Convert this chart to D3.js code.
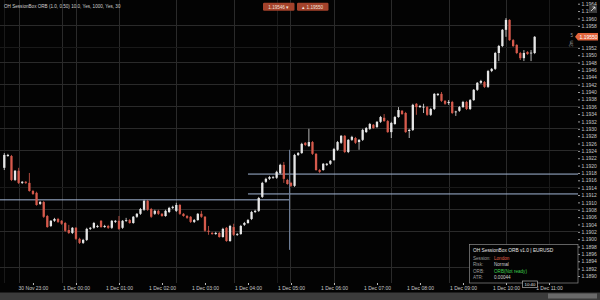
<!DOCTYPE html>
<html>
<head lang="en">
<meta charset="UTF-8">
<title>EURUSD M5</title>
<script src="https://cdn.jsdelivr.net/npm/d3@7"></script>
<style>
body { margin: 0; background: #000; }
text { font-family: "Liberation Sans", Arial, sans-serif; }
</style>
</head>
<body>
<div id="vis"></div>
<script>

// EURUSD M5, one candle every 5 minutes from 30 Nov 22:20
var firstBar = new Date(2020, 10, 30, 22, 20);

var open = [1.19194,1.19226,1.19226,1.19161,1.19186,1.19153,1.19156,1.19153,1.19131,1.19126,
  1.19096,1.19101,1.19063,1.19036,1.19050,1.19055,1.19050,1.19044,1.19025,1.19017,
  1.19031,1.19001,1.18990,1.18998,1.19028,1.19031,1.19033,1.19050,1.19033,1.19036,
  1.19031,1.19047,1.19050,1.19031,1.19052,1.19052,1.19044,1.19061,1.19069,1.19080,
  1.19104,1.19082,1.19069,1.19077,1.19069,1.19063,1.19074,1.19085,1.19077,1.19093,
  1.19069,1.19063,1.19061,1.19047,1.19052,1.19069,1.19061,1.19023,1.19017,1.19014,
  1.19017,1.19006,1.19031,1.18995,1.19033,1.19012,1.19014,1.19039,1.19044,1.19055,
  1.19074,1.19077,1.19115,1.19156,1.19164,1.19167,1.19167,1.19180,1.19202,1.19161,
  1.19153,1.19145,1.19229,1.19234,1.19262,1.19253,1.19264,1.19232,1.19188,1.19188,
  1.19202,1.19205,1.19215,1.19243,1.19262,1.19281,1.19237,1.19270,1.19275,1.19264,
  1.19270,1.19291,1.19300,1.19311,1.19305,1.19319,1.19330,1.19321,1.19291,1.19313,
  1.19332,1.19349,1.19343,1.19294,1.19297,1.19368,1.19359,1.19359,1.19359,1.19338,
  1.19354,1.19392,1.19395,1.19376,1.19370,1.19373,1.19346,1.19349,1.19359,1.19373,
  1.19354,1.19378,1.19406,1.19425,1.19427,1.19414,1.19457,1.19463,1.19506,1.19525,
  1.19569,1.19596,1.19541,1.19528,1.19506,1.19492,1.19509,1.19506,1.19506];

var high = [1.19234,1.19232,1.19229,1.19188,1.19194,1.19158,1.19158,1.19180,1.19134,1.19129,
  1.19104,1.19104,1.19066,1.19052,1.19058,1.19058,1.19052,1.19047,1.19039,1.19033,
  1.19033,1.19004,1.19001,1.19031,1.19033,1.19047,1.19039,1.19052,1.19039,1.19039,
  1.19052,1.19052,1.19063,1.19052,1.19058,1.19055,1.19063,1.19071,1.19085,1.19107,
  1.19107,1.19085,1.19080,1.19080,1.19071,1.19080,1.19088,1.19091,1.19099,1.19096,
  1.19071,1.19066,1.19063,1.19055,1.19071,1.19077,1.19063,1.19036,1.19020,1.19020,
  1.19020,1.19031,1.19033,1.19039,1.19042,1.19017,1.19039,1.19047,1.19055,1.19077,
  1.19080,1.19115,1.19156,1.19167,1.19172,1.19172,1.19186,1.19205,1.19210,1.19164,
  1.19156,1.19232,1.19237,1.19262,1.19264,1.19300,1.19267,1.19234,1.19191,1.19207,
  1.19207,1.19215,1.19248,1.19267,1.19283,1.19283,1.19272,1.19281,1.19278,1.19272,
  1.19300,1.19305,1.19316,1.19313,1.19321,1.19335,1.19340,1.19324,1.19319,1.19335,
  1.19359,1.19351,1.19346,1.19300,1.19368,1.19370,1.19365,1.19368,1.19362,1.19357,
  1.19397,1.19397,1.19400,1.19378,1.19378,1.19376,1.19349,1.19362,1.19376,1.19376,
  1.19381,1.19408,1.19427,1.19433,1.19430,1.19460,1.19465,1.19509,1.19528,1.19571,
  1.19601,1.19598,1.19544,1.19530,1.19509,1.19514,1.19511,1.19514,1.19552];

var low = [1.19188,1.19224,1.19158,1.19158,1.19150,1.19150,1.19150,1.19129,1.19120,1.19091,
  1.19093,1.19058,1.19031,1.19033,1.19047,1.19044,1.19039,1.19020,1.19014,1.19014,
  1.18998,1.18987,1.18987,1.18995,1.19025,1.19028,1.19031,1.19031,1.19031,1.19028,
  1.19028,1.19044,1.19025,1.19028,1.19047,1.19042,1.19042,1.19058,1.19066,1.19077,
  1.19077,1.19058,1.19066,1.19066,1.19061,1.19061,1.19071,1.19082,1.19074,1.19066,
  1.19061,1.19055,1.19044,1.19044,1.19050,1.19058,1.19020,1.19012,1.19012,1.19012,
  1.19004,1.19004,1.18993,1.18993,1.19009,1.19009,1.19012,1.19036,1.19042,1.19052,
  1.19071,1.19074,1.19112,1.19153,1.19161,1.19164,1.19164,1.19177,1.19153,1.19148,
  1.19142,1.19142,1.19226,1.19232,1.19253,1.19251,1.19229,1.19186,1.19180,1.19186,
  1.19199,1.19202,1.19213,1.19240,1.19259,1.19234,1.19234,1.19267,1.19259,1.19243,
  1.19267,1.19289,1.19297,1.19300,1.19302,1.19316,1.19319,1.19289,1.19275,1.19311,
  1.19330,1.19338,1.19289,1.19275,1.19294,1.19338,1.19357,1.19343,1.19335,1.19335,
  1.19351,1.19389,1.19373,1.19365,1.19365,1.19340,1.19335,1.19346,1.19357,1.19351,
  1.19351,1.19376,1.19403,1.19422,1.19411,1.19411,1.19454,1.19460,1.19484,1.19522,
  1.19550,1.19539,1.19522,1.19503,1.19487,1.19484,1.19501,1.19484,1.19503];

var close = [1.19229,1.19229,1.19161,1.19186,1.19153,1.19156,1.19153,1.19131,1.19123,1.19093,
  1.19101,1.19061,1.19033,1.19050,1.19055,1.19047,1.19042,1.19023,1.19017,1.19031,
  1.19001,1.18990,1.18998,1.19028,1.19031,1.19044,1.19036,1.19033,1.19036,1.19031,
  1.19050,1.19050,1.19028,1.19050,1.19052,1.19044,1.19061,1.19069,1.19082,1.19104,
  1.19080,1.19061,1.19077,1.19069,1.19063,1.19077,1.19085,1.19088,1.19093,1.19069,
  1.19063,1.19058,1.19047,1.19052,1.19069,1.19061,1.19023,1.19020,1.19014,1.19017,
  1.19006,1.19028,1.18995,1.19036,1.19012,1.19014,1.19036,1.19044,1.19052,1.19074,
  1.19077,1.19112,1.19153,1.19164,1.19169,1.19169,1.19183,1.19202,1.19164,1.19150,
  1.19145,1.19229,1.19234,1.19259,1.19256,1.19264,1.19232,1.19188,1.19183,1.19205,
  1.19205,1.19213,1.19245,1.19264,1.19281,1.19237,1.19270,1.19278,1.19262,1.19270,
  1.19297,1.19302,1.19313,1.19302,1.19319,1.19332,1.19321,1.19291,1.19316,1.19332,
  1.19351,1.19340,1.19291,1.19297,1.19365,1.19359,1.19362,1.19360,1.19338,1.19354,
  1.19395,1.19395,1.19376,1.19368,1.19373,1.19343,1.19347,1.19359,1.19373,1.19354,
  1.19378,1.19406,1.19425,1.19430,1.19414,1.19457,1.19463,1.19506,1.19525,1.19569,
  1.19596,1.19541,1.19525,1.19506,1.19492,1.19506,1.19503,1.19507,1.19550];

// session box levels drawn by the indicator
var prevLevel = 1.19107;             // from chart start to box end
var boxHigh = 1.19177, boxLow = 1.19123;
var boxStart = "04:00", boxEnd = "04:58";
var boxLine = [1.19243, 1.18971];    // vertical marker range

// grid as MT5 draws it (times) and prices
var gridTimes = ["22:40", "23:40", "00:00", "01:00", "02:20", "03:40", "04:58", "06:00", "07:20", "08:40", "10:00"];
var faintTimes = ["22:20", "04:40", "11:00"];
var gridPrices = [1.19581, 1.19481, 1.19422, 1.19362, 1.19302, 1.19243, 1.19082, 1.19021, 1.18925];
var faintPrices = [1.19522, 1.19142];

var priceTicks = d3.range(0, 38).map(function(i) { return 1.1964 - i * 0.0002; });

var infoRows = [["Session:", "London"], ["Risk:", "Normal"], ["ORB:", "ORB(Not ready)"], ["ATR:", "0.00044"]];
var infoColors = ["#e0604a", "#cfcfcf", "#3fcf4f", "#cfcfcf"];

function at(hm) {
  var p = hm.split(":");
  var h = +p[0];
  return h >= 12 ? new Date(2020, 10, 30, h, +p[1]) : new Date(2020, 11, 1, h, +p[1]);
}

var width = 600, height = 300;
var plotRight = 578, plotBottom = 283;

var svg = d3.select("#vis").append("svg")
  .attr("width", width)
  .attr("height", height)
  .style("display", "block");

svg.append("rect").attr("width", width).attr("height", height).attr("fill", "#030303");

var x = d3.scaleTime()
  .domain([new Date(2020, 10, 30, 22, 14), new Date(2020, 11, 1, 11, 40, 30)])
  .range([0, plotRight]);

var y = d3.scaleLinear()
  .domain([1.1964, 1.1890])
  .range([3.7, 276]);

// grid
svg.selectAll(".vgrid")
  .data(gridTimes.map(at).concat(faintTimes.map(at)))
  .enter().append("line")
  .attr("x1", function(d) { return Math.round(x(d)) + 0.5; })
  .attr("x2", function(d) { return Math.round(x(d)) + 0.5; })
  .attr("y1", 0)
  .attr("y2", plotBottom)
  .attr("stroke", function(d, i) { return i < gridTimes.length ? "#2a2a2a" : "#191919"; });

svg.selectAll(".hgrid")
  .data(gridPrices.concat(faintPrices))
  .enter().append("line")
  .attr("x1", 0)
  .attr("x2", plotRight)
  .attr("y1", function(d) { return Math.round(y(d)) + 0.5; })
  .attr("y2", function(d) { return Math.round(y(d)) + 0.5; })
  .attr("stroke", function(d, i) { return i < gridPrices.length ? "#2a2a2a" : "#191919"; });

// session box lines
var boxColor = "#a3b7d6";
svg.append("line")
  .attr("x1", 0).attr("x2", x(at(boxEnd)))
  .attr("y1", y(prevLevel)).attr("y2", y(prevLevel))
  .attr("stroke", boxColor);
[boxHigh, boxLow].forEach(function(v) {
  svg.append("line")
    .attr("x1", x(at(boxStart))).attr("x2", plotRight)
    .attr("y1", y(v)).attr("y2", y(v))
    .attr("stroke", boxColor);
});
svg.append("line")
  .attr("x1", x(at(boxEnd))).attr("x2", x(at(boxEnd)))
  .attr("y1", y(boxLine[0])).attr("y2", y(boxLine[1]))
  .attr("stroke", "#6f7f99");

// candles
var bars = open.map(function(o, i) {
  return {t: d3.timeMinute.offset(firstBar, 5 * i), o: o, h: high[i], l: low[i], c: close[i]};
});

var bull = "#e6e6e6", bear = "#d65a4c";

var candle = svg.selectAll(".candle")
  .data(bars)
  .enter().append("g")
  .attr("class", "candle");

candle.append("line")
  .attr("x1", function(d) { return x(d.t); })
  .attr("x2", function(d) { return x(d.t); })
  .attr("y1", function(d) { return y(d.h); })
  .attr("y2", function(d) { return y(d.l); })
  .attr("stroke", function(d) { return d.c < d.o ? bear : bull; })
  .attr("stroke-width", 0.8);

candle.append("rect")
  .attr("x", function(d) { return x(d.t) - 1.15; })
  .attr("width", 2.3)
  .attr("y", function(d) { return y(Math.max(d.o, d.c)); })
  .attr("height", function(d) { return Math.max(0.8, Math.abs(y(d.o) - y(d.c))); })
  .attr("fill", function(d) { return d.c < d.o ? bear : bull; });

var last = bars[bars.length - 1];
var yl = y(last.c);

// price axis, the labels under the price tag are hidden like in the terminal
var yAxis = svg.append("g")
  .attr("transform", "translate(" + plotRight + ",0)")
  .call(d3.axisRight(y)
    .tickValues(priceTicks.filter(function(t) { return Math.abs(y(t) - yl) > 5.5; }))
    .tickFormat(d3.format(".4f")).tickSize(2).tickPadding(1.5));
yAxis.select(".domain").remove();
yAxis.selectAll("line").attr("stroke", "#9a9a9a");
yAxis.selectAll("text").attr("fill", "#c8c8c8").style("font-size", "5px");

// time axis
var xAxis = svg.append("g")
  .attr("transform", "translate(0," + plotBottom + ")")
  .call(d3.axisBottom(x).ticks(d3.timeHour.every(1)).tickFormat(d3.timeFormat("%-d %b %H:%M")).tickSize(2).tickPadding(1.5));
xAxis.select(".domain").remove();
xAxis.selectAll("line").attr("stroke", "#bdbdbd");
xAxis.selectAll("text").attr("fill", "#c8c8c8").style("font-size", "5px");

// current price tag
svg.append("path")
  .attr("d", "M575," + yl + "L578," + (yl - 3.7) + "L598," + (yl - 3.7) + "L598," + (yl + 3.7) + "L578," + (yl + 3.7) + "Z")
  .attr("fill", "#e2643c");
svg.append("text")
  .attr("x", 579.5).attr("y", yl + 1.8)
  .attr("fill", "#fff").style("font-size", "5px")
  .text(d3.format(".5f")(last.c));
svg.append("text")
  .attr("x", 570.5).attr("y", yl)
  .attr("fill", "#9a9a9a").style("font-size", "4.5px")
  .text("5");
svg.append("text")
  .attr("transform", "translate(573," + (yl + 10) + ") rotate(-90)")
  .attr("fill", "#9a9a9a").style("font-size", "4.5px")
  .text("3m");

// title
svg.append("text")
  .attr("x", 4).attr("y", 8)
  .attr("fill", "#cfcfcf").style("font-size", "4.6px")
  .text("OH SessionBox ORB (1.0, 0.50) 10.0, Yes, 1000, Yes, 30");

// one click buttons
var buttons = [["1.19546 \u25BE", 263], ["\u25B4 1.19550", 297]];
buttons.forEach(function(b) {
  svg.append("rect")
    .attr("x", b[1]).attr("y", 2.7).attr("width", 31.5).attr("height", 8)
    .attr("rx", 1.2).attr("fill", "#a4422b");
  svg.append("text")
    .attr("x", b[1] + 15.75).attr("y", 8.5)
    .attr("text-anchor", "middle")
    .attr("fill", "#f0e0da").style("font-size", "4.6px")
    .text(b[0]);
});

// top right icon
svg.append("rect").attr("x", 589).attr("y", 5).attr("width", 8).attr("height", 8).attr("fill", "#3c3c3c");
svg.append("path").attr("d", "M591,11L595,7M592.5,7L595,7L595,9.5").attr("stroke", "#fff").attr("stroke-width", 0.7).attr("fill", "none");

// info panel
svg.append("rect")
  .attr("x", 469.5).attr("y", 244.5).attr("width", 108.5).attr("height", 38.5)
  .attr("fill", "#030303").attr("stroke", "#8c8c8c").attr("stroke-width", 0.7);
svg.append("text")
  .attr("x", 473).attr("y", 251.5)
  .attr("fill", "#e6e6e6").style("font-size", "4.8px")
  .text("OH SessionBox ORB v1.0 | EURUSD");
infoRows.forEach(function(r, i) {
  svg.append("text")
    .attr("x", 473).attr("y", 259.5 + i * 6.6)
    .attr("fill", "#9c9c9c").style("font-size", "4.6px")
    .text(r[0]);
  svg.append("text")
    .attr("x", 494).attr("y", 259.5 + i * 6.6)
    .attr("fill", infoColors[i]).style("font-size", "4.6px")
    .text(r[1]);
});

// bar timer box
svg.append("rect")
  .attr("x", 522.5).attr("y", 281).attr("width", 15).attr("height", 6.5)
  .attr("fill", "#030303").attr("stroke", "#cfcfcf").attr("stroke-width", 0.6);
svg.append("text")
  .attr("x", 530).attr("y", 286).attr("text-anchor", "middle")
  .attr("fill", "#e6e6e6").style("font-size", "4.3px")
  .text(d3.timeFormat("%H:%M")(last.t));

// scroll bar
svg.append("rect").attr("x", 0).attr("y", 292.5).attr("width", width).attr("height", 7.5).attr("fill", "#3b3b3b");
svg.append("rect").attr("x", 548).attr("y", 293.5).attr("width", 49).attr("height", 5).attr("fill", "#6a6a6a");

</script>
</body>
</html>
